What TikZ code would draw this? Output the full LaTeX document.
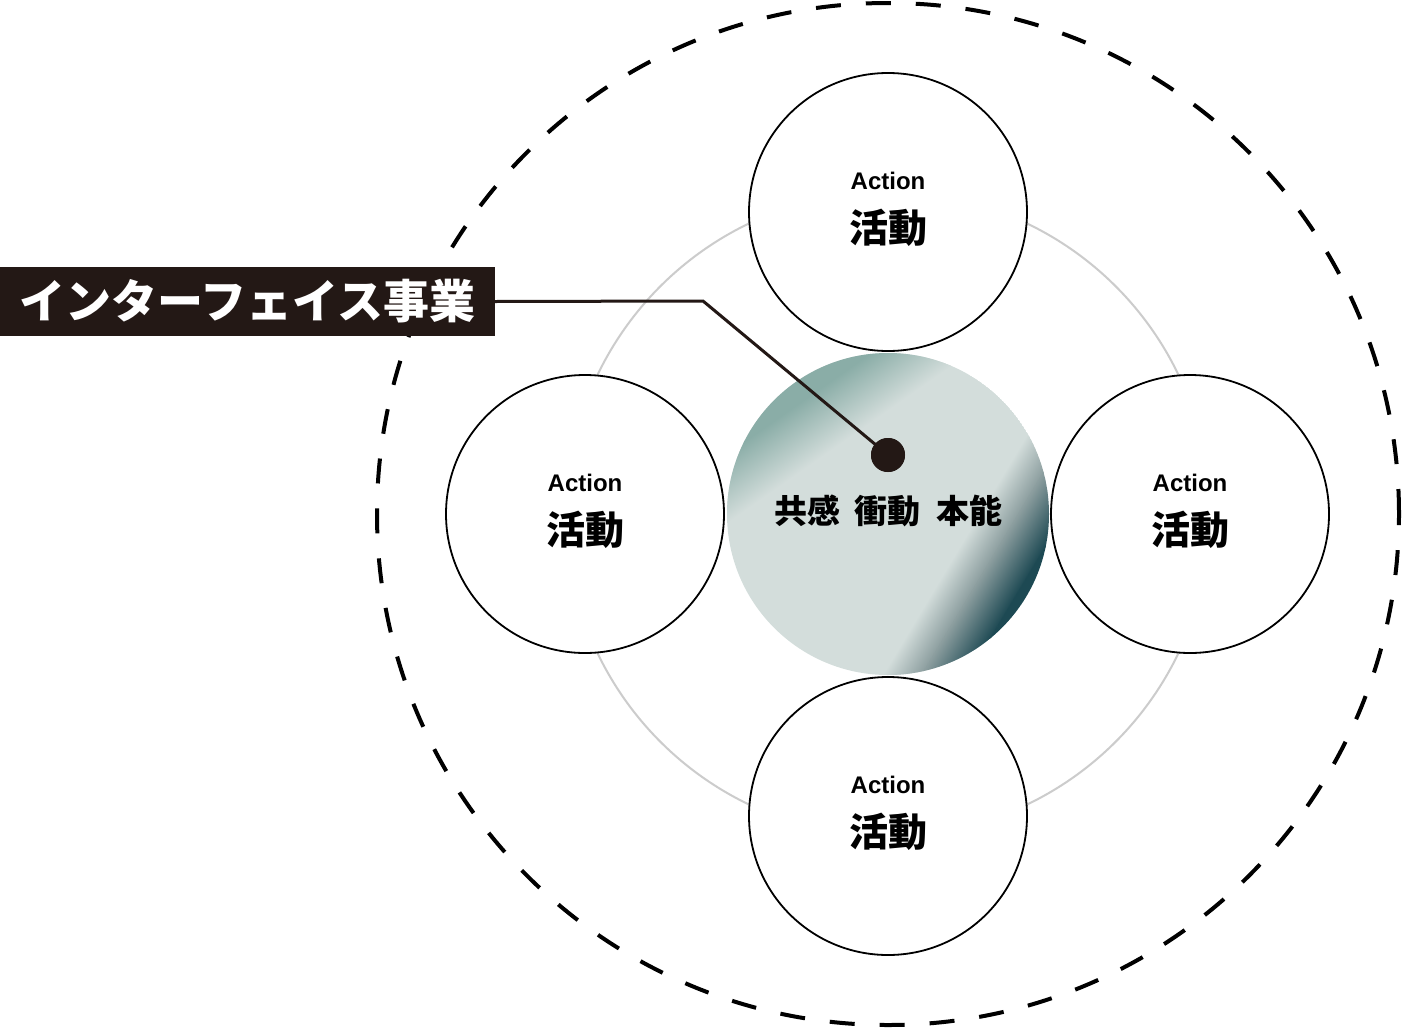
\documentclass[tikz,border=0pt]{standalone}
\usepackage{fontspec}
\setmainfont{Liberation Sans}
\newfontfamily\jp{Noto Sans CJK JP}
\definecolor{ink}{HTML}{231815}
\definecolor{ringgray}{HTML}{CCCCCC}
\definecolor{corebase}{HTML}{D3DDDB}
\definecolor{coreteal}{HTML}{8AADA7}
\definecolor{coregray}{HTML}{8C9E9F}
\definecolor{coredark}{HTML}{1D4953}
\begin{document}
\begin{tikzpicture}[x=1pt,y=1pt,
  act/.style={circle, draw=black, line width=1.8pt, fill=white, minimum size=278pt, inner sep=0pt},
  acttitle/.style={font=\fontsize{24}{24}\selectfont\bfseries, inner sep=0pt},
  actjp/.style={font=\jp\fontsize{39}{39}\selectfont\bfseries, inner sep=0pt},
  coretext/.style={font=\jp\fontsize{33}{33}\selectfont\bfseries, inner sep=0pt},
  labelbox/.style={fill=ink, text=white, minimum width=495pt, minimum height=69pt, inner sep=0pt,
    font=\jp\fontsize{46}{46}\selectfont\bfseries},
  conn/.style={draw=ink, line width=3pt},
  dotnode/.style={circle, fill=ink, minimum size=34pt, inner sep=0pt},
  outer/.style={line width=4pt, dash pattern=on 25pt off 25pt},
  ring/.style={draw=ringgray, line width=2pt}]
\useasboundingbox (0,0) rectangle (1403,-1028);
\fill[white] (0,0) rectangle (1403,-1028);
% outer dashed circle and ring
\draw[outer] (888,-514) circle (511pt);
\draw[ring] (888,-514) circle (322pt);
% action circles
\node[act] (top) at (888,-212) {};
\node[act] (left) at (585,-514) {};
\node[act] (right) at (1190,-514) {};
\node[act] (bottom) at (888,-816) {};
\foreach \n in {top,left,right,bottom}{
  \node[acttitle] at ([yshift=31pt]\n.center) {Action};
  \node[actjp] at ([yshift=-16pt]\n.center) {活動};
}
% core circle with gradient
\node[circle, minimum size=322pt, inner sep=0pt] (core) at (888,-514) {};
\begin{scope}
  \clip (888,-514) circle (161pt);
  \fill[corebase] (888,-514) circle (161pt);
  \begin{scope}[transform canvas={shift={(888,-514)}, rotate=125}]
    \shade[left color=corebase, right color=coreteal] (85,-250) rectangle (142,250);
    \fill[coreteal] (141.5,-250) rectangle (260,250);
  \end{scope}
  \begin{scope}[transform canvas={shift={(888,-514)}, rotate=-31}]
    \shade[left color=corebase, right color=coregray] (78,-250) rectangle (112,250);
    \shade[left color=coregray, right color=coredark] (111.5,-250) rectangle (152,250);
    \fill[coredark] (151.5,-250) rectangle (260,250);
  \end{scope}
\end{scope}
\node[coretext] (ct) at (888,-511) {共感\hspace{15pt}衝動\hspace{15pt}本能};
% label and connector
\node[dotnode] (dot) at (888,-455) {};
\node[labelbox] (lab) at (247.5,-301.5) {インターフェイス事業};
\coordinate (bend) at (703,-301);
\draw[conn] (lab.east) -- (bend) -- (dot.center);
\node[dotnode] at (dot.center) {};
\end{tikzpicture}
\end{document}
